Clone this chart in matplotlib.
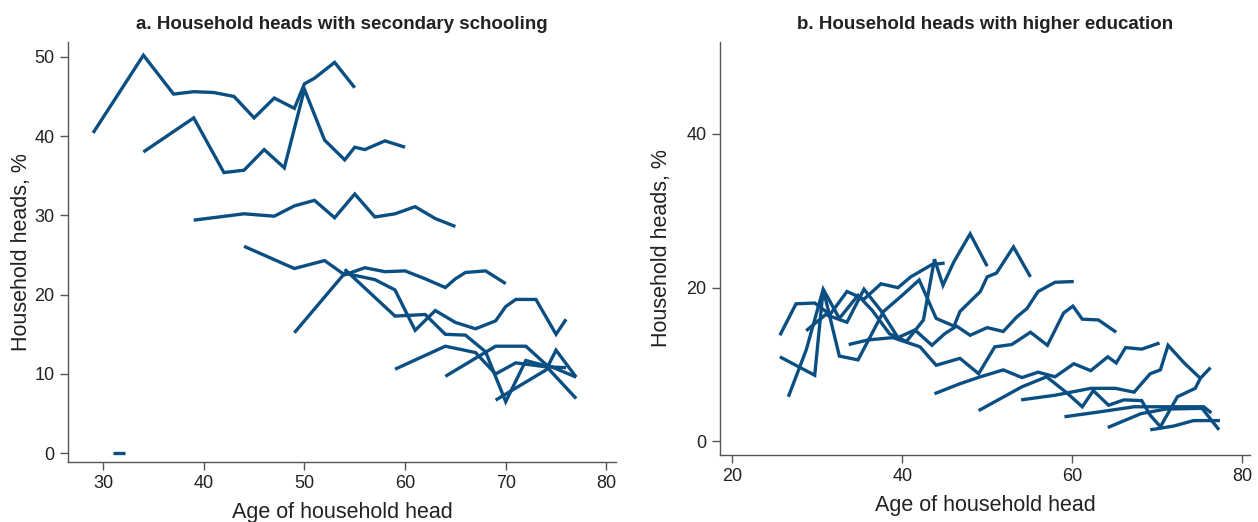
import matplotlib
matplotlib.use("Agg")
import matplotlib.pyplot as plt

plt.rcParams["font.family"] = ["Liberation Sans", "DejaVu Sans"]

BLUE = "#0b4f82"
GREY = "#555555"

# Panel a: share of household heads with secondary schooling, by birth cohort
sec_ages = [
    [29, 34, 37, 39, 41, 43, 45, 47, 49, 50, 51, 53, 55],
    [34, 39, 42, 44, 46, 48, 50, 52, 54, 55, 56, 58, 60],
    [39, 44, 47, 49, 51, 53, 55, 57, 59, 61, 63, 65],
    [44, 49, 52, 54, 56, 58, 60, 62, 64, 65, 66, 68, 70],
    [49, 54, 57, 59, 61, 63, 65, 67, 69, 70, 71, 73, 75, 76],
    [54, 59, 62, 64, 66, 68, 70, 72, 74, 77],
    [59, 64, 67, 69, 71, 74, 76],
    [64, 69, 72, 74, 77],
    [69, 74, 75, 77],
    [31, 32.2],
]
sec_vals = [
    [40.4, 50.2, 45.3, 45.6, 45.5, 45.0, 42.3, 44.8, 43.5, 46.6, 47.3, 49.3, 46.1],
    [38.0, 42.3, 35.4, 35.7, 38.3, 36.0, 45.9, 39.5, 37.0, 38.6, 38.3, 39.4, 38.6],
    [29.4, 30.2, 29.9, 31.2, 31.9, 29.7, 32.7, 29.8, 30.2, 31.1, 29.6, 28.6],
    [26.1, 23.3, 24.3, 22.5, 23.4, 22.9, 23.0, 22.0, 20.9, 22.0, 22.8, 23.0, 21.4],
    [15.2, 22.7, 21.9, 20.6, 15.5, 18.0, 16.5, 15.7, 16.7, 18.5, 19.4, 19.4, 15.0, 16.9],
    [23.2, 17.3, 17.5, 15.0, 14.9, 12.8, 6.5, 11.7, 11.0, 6.9],
    [10.6, 13.5, 12.7, 10.0, 11.4, 10.9, 10.8],
    [9.7, 13.5, 13.5, 11.2, 9.6],
    [6.7, 10.5, 13.0, 9.6],
    [0.0, 0.0],
]

# Panel b: share of household heads with higher education, by birth cohort
hi_ages = [
    [25.6, 27.5, 29.7, 31.5, 33.5, 35.5, 37.5, 39.5, 41, 43.5, 45],
    [26.6, 28.7, 30.7, 32.6, 34.8, 36.5, 38.5, 40.5, 42.5, 43.8, 44.8, 46.1, 48, 50],
    [25.6, 29.7, 30.7, 32.6, 34.8, 37.8, 40, 42, 44, 46.1, 46.8, 49.2, 50, 51.1, 53.1, 55.1],
    [28.7, 31, 33.5, 35.5, 37.5, 39.5, 41.5, 43.5, 45, 46.4, 48, 50, 51.9, 53.5, 54.7, 56, 58, 60.2],
    [33.7, 36, 38.9, 42.1, 44.0, 46.8, 49.0, 50.9, 52.9, 55.1, 57.1, 59, 60.1, 61.2, 63.1, 65.2],
    [43.8, 46.8, 49.2, 51.9, 54.1, 56, 58, 60.2, 62.2, 64.2, 65.2, 66.3, 68.2, 70.3],
    [49, 54.1, 57, 59.4, 61.2, 62.5, 64.3, 66.1, 68.2, 69.2, 70.4, 72.4, 74.5, 75.1, 76.3],
    [54, 58, 62.2, 65.1, 67.3, 69.2, 70.4, 71.3, 73.2, 75.1],
    [59.1, 63, 67.3, 71, 75.5, 76.4],
    [64.2, 68.1, 71, 75.3, 77.3],
    [69.2, 72, 74.3, 77.4],
]
hi_vals = [
    [13.8, 17.9, 18.0, 16.5, 19.5, 18.5, 20.5, 20.0, 21.4, 23.0, 23.2],
    [5.8, 11.9, 19.8, 16.0, 19.0, 17.0, 14.0, 13.0, 15.8, 23.7, 20.3, 23.4, 27.0, 22.8],
    [11.0, 8.6, 19.8, 11.1, 10.6, 16.9, 19.0, 21.0, 16.0, 15.0, 16.9, 19.5, 21.4, 21.9, 25.3, 21.4],
    [14.4, 16.5, 15.5, 19.8, 17.0, 13.5, 14.5, 12.5, 14.0, 15.0, 13.8, 14.8, 14.3, 16.2, 17.3, 19.5, 20.7, 20.8],
    [12.6, 13.2, 13.5, 12.3, 9.9, 10.8, 8.8, 12.3, 12.6, 14.2, 12.5, 16.7, 17.6, 15.9, 15.8, 14.2],
    [6.2, 7.5, 8.4, 9.3, 8.3, 9.0, 8.4, 10.1, 9.2, 11.0, 10.2, 12.2, 12.0, 12.8],
    [4.0, 7.1, 8.4, 6.3, 4.5, 6.6, 4.7, 5.4, 5.3, 3.4, 1.9, 5.8, 6.9, 8.2, 9.6],
    [5.4, 6.0, 6.9, 6.9, 6.4, 8.8, 9.3, 12.5, 10.2, 8.2],
    [3.2, 3.8, 4.5, 4.5, 4.5, 3.7],
    [1.8, 3.6, 4.2, 4.3, 1.5],
    [1.5, 2.0, 2.7, 2.7],
]

fig = plt.figure(figsize=(12.58, 5.22), dpi=100)
ax1 = fig.add_axes([0.054, 0.115, 0.436, 0.805])
ax2 = fig.add_axes([0.572, 0.128, 0.422, 0.792])


def style(ax, title, ypad):
    for side in ("top", "right"):
        ax.spines[side].set_visible(False)
    for side in ("left", "bottom"):
        ax.spines[side].set_color(GREY)
        ax.spines[side].set_linewidth(1.0)
    ax.tick_params(colors=GREY, labelcolor="#222222", labelsize=13, length=6, width=1.0)
    ax.set_title(title, fontsize=13.5, fontweight="bold", color="#222222", pad=9)
    ax.set_xlabel("Age of household head", fontsize=15.5, color="#222222", labelpad=7)
    ax.set_ylabel("Household heads, %", fontsize=15.5, color="#222222", labelpad=ypad)


for xs, ys in zip(sec_ages, sec_vals):
    ax1.plot(xs, ys, color=BLUE, lw=2.4, solid_joinstyle="miter", solid_capstyle="butt")
ax1.set_xlim(26.5, 81)
ax1.set_ylim(-1.1, 51.9)
ax1.set_xticks([30, 40, 50, 60, 70, 80])
ax1.set_yticks([0, 10, 20, 30, 40, 50])
style(ax1, "a. Household heads with secondary schooling", 2)

for xs, ys in zip(hi_ages, hi_vals):
    ax2.plot(xs, ys, color=BLUE, lw=2.4, solid_joinstyle="miter", solid_capstyle="butt")
ax2.set_xlim(18.5, 81)
ax2.set_ylim(-1.8, 52)
ax2.set_xticks([20, 40, 60, 80])
ax2.set_yticks([0, 20, 40])
style(ax2, "b. Household heads with higher education", 10)

fig.savefig("out.png", dpi=100)
